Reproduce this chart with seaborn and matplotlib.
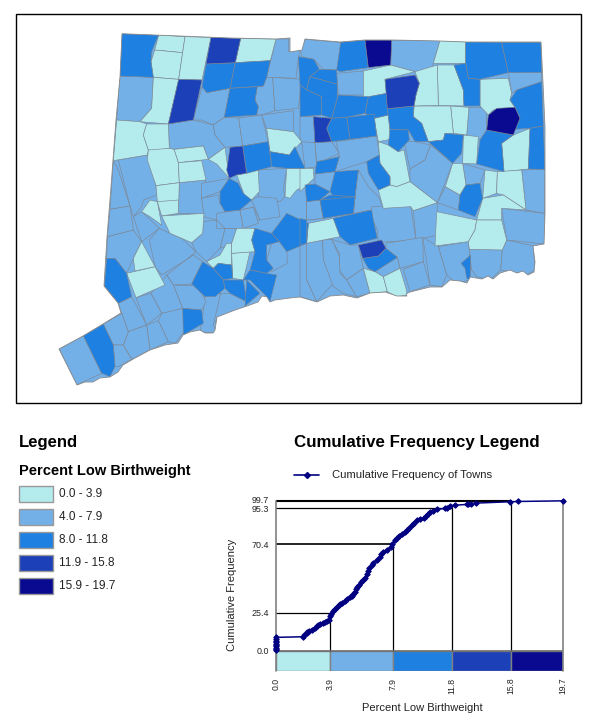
import matplotlib
matplotlib.use("Agg")
import matplotlib.pyplot as plt
from matplotlib.collections import PolyCollection
from matplotlib.patches import Polygon, Rectangle
import pandas as pd
import seaborn as sns

sns.set_style("white")
plt.rcParams['font.family'] = ['Liberation Sans', 'DejaVu Sans']

CLASS_COLORS = ['#B4ECEE', '#74B0E8', '#1E80E0', '#1C40B8', '#0A0A90']
CLASS_LABELS = ['0.0 - 3.9', '4.0 - 7.9', '8.0 - 11.8', '11.9 - 15.8', '15.9 - 19.7']
TICK_LABELS = ['0.0', '3.9', '7.9', '11.8', '15.8', '19.7']
TICK_POS = [0.0, 3.72, 8.04, 12.07, 16.17, 19.7]
Y_TICK_LABELS = ['0.0', '25.4', '70.4', '95.3', '99.7']
Y_TICK_POS = [0.0, 25.2, 71.0, 95.1, 100.9]
GUIDE_LEVELS = [25.2, 71.0, 95.1, 99.8]

PCT = [0, 0, 0, 0, 0, 0, 0, 0, 0, 0, 1.88, 1.95, 2.1, 2.16, 2.3, 2.45, 2.65, 2.8, 2.9, 3.03, 3.2, 3.37, 3.5, 3.67,
       3.72, 3.78, 3.9, 4.06, 4.2, 4.3, 4.4, 4.55, 4.75, 4.9, 5.09, 5.2, 5.32, 5.4, 5.5, 5.55, 5.7, 5.85, 6.0, 6.1,
       6.24, 6.3, 6.4, 6.58, 6.7, 6.93, 7.15, 7.25, 7.38, 7.6, 7.88, 8.0, 8.19, 8.3, 8.45, 8.65, 8.85, 9.0, 9.15,
       9.33, 9.5, 9.68, 9.9, 10.15, 10.3, 10.45, 10.6, 10.8, 11.06, 11.6, 11.74, 11.97, 12.32, 13.1, 13.2, 13.4,
       13.75, 16.1, 16.67, 19.7]
CUM = [0.4, 1.2, 2.1, 3.0, 3.9, 4.8, 5.7, 6.6, 7.7, 8.9, 9.3, 10.6, 11.8, 12.6, 13.0, 13.7, 15.2, 16.4, 17.0, 17.7,
       18.4, 19.3, 19.9, 20.8, 23.0, 24.8, 26.5, 28.1, 29.4, 30.2, 31.0, 32.0, 33.2, 34.2, 35.5, 36.6, 38.0, 39.4,
       41.0, 42.5, 44.0, 45.6, 47.0, 48.8, 51.0, 53.0, 55.0, 57.0, 58.6, 60.7, 62.5, 64.2, 65.8, 67.4, 69.0, 71.0,
       73.6, 75.0, 76.4, 78.0, 79.0, 80.2, 81.9, 83.5, 85.4, 86.9, 87.5, 88.6, 90.0, 91.2, 92.4, 93.4, 94.2, 94.9,
       95.3, 96.6, 97.0, 97.5, 97.6, 98.0, 98.4, 99.3, 99.5, 99.9]

# State boundary, map units
STATE_OUTLINE = [(122, 33.7), (230, 38), (276, 39), (290, 38), (290, 52), (302, 50), (305, 39), (340, 42), (365, 40),
    (392, 40), (440, 41), (466, 42), (541, 42), (543, 83), (545, 127), (545, 169), (545, 213), (544, 244), (533, 246),
    (535, 262), (534, 272), (528, 275), (523, 271), (517, 273), (510, 270), (500, 273), (493, 279), (488, 276),
    (482, 279), (470, 277), (467, 283), (460, 281), (450, 280), (442, 287), (430, 287), (410, 292), (406, 294),
    (407, 296), (397, 296), (385, 292), (370, 293), (357, 298), (343, 295), (330, 296), (317, 302), (300, 297),
    (290, 298), (275, 300), (270, 302), (267, 297), (262, 296), (258, 302), (247, 306), (235, 310), (217, 317),
    (215, 330), (213, 333), (205, 333), (200, 330), (190, 332), (183, 335), (178, 343), (165, 345), (150, 350),
    (135, 358), (123, 365), (118, 372), (110, 377), (100, 378), (93, 382), (85, 382), (77, 385), (59, 349), (83, 336),
    (103, 324), (121, 313), (118, 303), (104, 286), (107, 237), (110, 200), (113, 160), (116, 120), (120, 77)]

# Town boundaries per map sheet: (class, vertices)
TOWNS_NW = [
 (2, [(216,41),(326,45),(305,95),(303,125),(310,172),(209,168)]),
 (0, [(326,45),(405,50),(398,98),(314,90)]),
 (0, [(314,90),(398,98),(386,178),(318,172),(303,125)]),
 (0, [(405,50),(483,52),(456,180),(386,178)]),
 (3, [(483,52),(572,55),(556,128),(468,132)]),
 (0, [(572,55),(678,57),(661,122),(558,126)]),
 (1, [(678,57),(716,57),(716,95),(752,90),(745,110),(740,160),(738,175),(668,172),(650,172)]),
 (2, [(468,132),(552,128),(540,205),(470,218),(456,200)]),
 (2, [(556,128),(661,122),(645,172),(640,198),(541,207)]),
 (1, [(209,170),(312,175),(305,265),(270,305),(200,300)]),
 (0, [(312,175),(384,178),(355,312),(270,308),(300,265)]),
 (3, [(384,178),(456,184),(430,300),(355,312)]),
 (1, [(456,200),(470,218),(536,208),(523,292),(490,315),(455,300),(430,300)]),
 (2, [(538,207),(622,200),(615,240),(625,260),(620,285),(523,292)]),
 (1, [(645,172),(668,172),(675,272),(635,285),(620,285),(625,260),(615,240),(622,200),(640,198)]),
 (1, [(668,175),(755,178),(745,265),(675,275)]),
 (0, [(198,300),(270,308),(290,312),(280,345),(295,390),(292,405),(190,422)]),
 (0, [(290,312),(355,312),(358,385),(315,393),(295,390),(280,345)]),
 (1, [(358,312),(430,302),(490,318),(495,345),(525,382),(475,418),(460,378),(372,388),(358,385)]),
 (1, [(490,315),(523,294),(566,294),(578,378),(530,385),(495,345)]),
 (1, [(566,294),(635,285),(655,365),(582,378)]),
 (1, [(635,285),(730,272),(730,335),(650,325)]),
 (0, [(650,330),(730,335),(755,365),(718,405),(660,395)]),
 (0, [(372,388),(460,378),(470,420),(385,428)]),
 (0, [(292,395),(358,385),(372,388),(385,428),(388,488),(318,497),(292,420)]),
 (0, [(385,428),(455,422),(468,480),(390,488)]),
 (0, [(475,420),(530,388),(538,475),(500,432)]),
 (3, [(540,382),(580,380),(590,460),(560,465),(540,478),(530,450)]),
 (2, [(580,380),(655,372),(665,440),(590,452)]),
 (2, [(660,395),(712,405),(735,380),(765,445),(710,445),(665,440)]),
 (0, [(565,465),(625,450),(628,515),(605,540),(585,530)]),
 (1, [(625,450),(710,442),(700,510),(705,530),(690,545),(625,530)]),
 (0, [(712,448),(780,445),(780,490),(740,510),(720,535),(700,525)]),
 (2, [(540,480),(565,490),(580,520),(605,540),(570,570),(525,575),(510,550),(510,515)]),
 (1, [(190,422),(205,450),(240,558),(180,568)]),
 (1, [(205,420),(290,408),(318,497),(320,525),(280,540),(275,560),(250,590),(240,560)]),
 (0, [(318,497),(380,488),(385,580),(335,588),(322,545)]),
 (1, [(390,490),(468,480),(455,535),(462,580),(385,580)]),
 (1, [(455,490),(535,470),(505,520),(455,535)]),
 (1, [(455,535),(505,525),(510,550),(525,575),(500,600),(462,590)]),
 (1, [(605,540),(625,530),(680,535),(690,590),(630,600)]),
 (1, [(570,570),(610,562),(625,600),(565,600)]),
]
TOWNS_NE = [
 (1, [(15,58),(122,67),(118,130),(110,150),(70,148),(42,118),(5,110),(0,80)]),
 (2, [(122,67),(195,60),(205,143),(120,155),(110,150)]),
 (4, [(195,60),(275,60),(272,135),(205,145)]),
 (1, [(275,60),(420,62),(400,130),(392,150),(345,155),(272,137)]),
 (0, [(420,62),(497,65),(497,130),(402,132)]),
 (2, [(497,65),(605,67),(625,158),(540,178),(505,175),(497,130)]),
 (2, [(605,67),(723,67),(725,157),(625,158)]),
 (1, [(625,160),(725,157),(725,185),(650,210),(635,220)]),
 (0, [(540,178),(625,175),(635,220),(630,240),(645,262),(580,270),(565,285),(540,258)]),
 (2, [(725,188),(730,318),(690,325),(640,328),(660,295),(645,262),(635,235),(650,210)]),
 (4, [(590,265),(645,262),(660,295),(640,345),(560,330),(565,285)]),
 (2, [(690,325),(730,318),(735,448),(685,447)]),
 (0, [(605,370),(640,345),(695,325),(685,447),(612,455),(608,405)]),
 (2, [(560,332),(640,347),(605,370),(608,405),(612,455),(530,432),(540,360)]),
 (1, [(507,262),(560,262),(560,330),(540,360),(500,345)]),
 (0, [(452,258),(505,262),(500,345),(460,340)]),
 (0, [(342,258),(452,258),(460,340),(435,340),(430,360),(385,365),(365,310),(340,290)]),
 (2, [(462,135),(497,130),(505,175),(540,180),(540,258),(492,258),(490,210)]),
 (0, [(412,135),(462,135),(490,210),(490,258),(415,256)]),
 (0, [(345,155),(412,135),(412,256),(345,256),(348,225),(358,190)]),
 (0, [(190,153),(270,138),(345,155),(255,178),(260,220),(190,235)]),
 (3, [(255,178),(345,165),(358,190),(348,225),(345,256),(262,266)]),
 (1, [(110,160),(190,150),(190,225),(115,225)]),
 (2, [(205,230),(255,220),(262,266),(265,285),(222,295),(195,280)]),
 (2, [(262,265),(342,258),(340,290),(365,310),(385,365),(345,365),(325,330),(270,328)]),
 (0, [(222,295),(262,288),(272,358),(235,365)]),
 (2, [(270,330),(325,330),(328,360),(295,395),(265,375)]),
 (2, [(115,228),(205,225),(195,280),(140,292),(95,295)]),
 (2, [(142,292),(222,282),(230,348),(150,358)]),
 (2, [(92,298),(142,292),(150,358),(95,365),(80,325)]),
 (3, [(40,290),(92,288),(80,325),(95,365),(45,368)]),
 (1, [(0,290),(40,290),(45,368),(5,375),(0,350)]),
 (2, [(0,110),(42,118),(58,148),(30,170),(20,210),(0,195)]),
 (2, [(58,148),(110,155),(112,193),(30,168)]),
 (2, [(30,168),(110,195),(112,235),(95,295),(65,285),(65,230),(20,212)]),
 (2, [(0,190),(20,212),(65,230),(65,288),(0,288)]),
 (0, [(0,445),(40,445),(42,475),(0,515)]),
 (1, [(108,365),(232,350),(238,405),(200,425),(105,455),(118,410)]),
 (1, [(10,372),(45,368),(50,440),(15,445)]),
 (1, [(48,368),(95,365),(118,400),(75,420),(50,425)]),
 (2, [(42,425),(75,420),(118,405),(108,455),(45,462)]),
 (2, [(205,425),(235,405),(240,430),(270,470),(270,495),(235,510),(205,460)]),
 (0, [(235,365),(270,375),(295,395),(312,390),(330,485),(290,500),(272,490),(270,465),(240,430)]),
 (1, [(312,365),(345,365),(392,375),(375,420),(330,447)]),
 (1, [(392,378),(458,430),(412,548),(332,487),(330,447),(375,420)]),
 (2, [(392,365),(430,360),(435,340),(490,345),(485,400),(458,430)]),
 (0, [(490,350),(535,350),(530,435),(488,430)]),
 (0, [(458,430),(488,430),(498,495),(480,525),(436,500)]),
 (1, [(490,432),(555,450),(540,490),(498,495)]),
 (0, [(555,448),(592,455),(590,520),(548,535)]),
 (0, [(592,455),(665,450),(678,570),(610,525),(590,520)]),
 (1, [(665,450),(735,448),(733,580),(678,570)]),
 (2, [(500,490),(540,487),(545,540),(525,590),(475,570),(478,525)]),
 (1, [(436,502),(478,525),(475,575),(408,548)]),
 (0, [(232,510),(272,490),(290,500),(330,485),(412,548),(340,572),(332,560),(250,565)]),
 (0, [(545,540),(610,525),(678,575),(605,565),(605,600),(530,600)]),
 (1, [(175,450),(205,500),(235,530),(250,565),(215,570),(160,580),(170,490)]),
 (2, [(105,460),(175,450),(170,490),(165,530),(105,535),(90,515)]),
 (2, [(15,495),(45,492),(88,522),(60,540),(20,545)]),
 (2, [(60,535),(90,525),(165,535),(160,575),(70,595)]),
 (1, [(42,462),(105,458),(110,480),(90,515),(45,490)]),
 (1, [(18,548),(60,545),(68,595),(20,600)]),
]
TOWNS_SW = [
 (1, [(172,110),(250,90),(275,125),(250,175),(230,220),(195,175),(170,175)]),
 (1, [(180,30),(240,20),(250,90),(175,105)]),
 (1, [(245,55),(275,35),(328,85),(275,125)]),
 (1, [(298,120),(328,85),(360,100),(395,115),(438,155),(405,182),(335,225),(315,200)]),
 (1, [(350,225),(405,185),(430,165),(458,185),(425,252),(370,255)]),
 (2, [(170,175),(195,175),(225,225),(245,290),(205,310),(163,258)]),
 (0, [(225,225),(315,203),(345,255),(258,293)]),
 (0, [(252,175),(270,125),(313,200),(255,213)]),
 (0, [(275,30),(300,0),(325,0),(335,75),(300,50)]),
 (0, [(325,0),(385,0),(385,42),(335,48)]),
 (0, [(335,50),(455,40),(458,100),(425,128),(395,115),(360,100)]),
 (2, [(458,180),(490,205),(520,240),(525,265),(495,290),(465,290),(425,255)]),
 (2, [(490,205),(505,190),(545,195),(548,235),(520,240)]),
 (0, [(470,185),(510,165),(530,130),(545,130),(545,190),(505,190),(485,205)]),
 (0, [(545,160),(600,155),(580,240),(550,240)]),
 (0, [(545,130),(560,85),(615,85),(605,120),(615,155),(545,160)]),
 (1, [(510,145),(525,85),(560,85),(545,130)]),
 (1, [(440,150),(430,125),(458,100),(460,65),(505,65),(500,85),(525,85),(510,145),(470,180)]),
 (1, [(500,40),(565,35),(580,85),(525,90),(505,65)]),
 (1, [(565,30),(610,20),(625,70),(580,88)]),
 (2, [(615,90),(665,100),(688,125),(650,135),(650,180),(670,205),(650,220),(600,210),(615,155),(605,120)]),
 (2, [(665,100),(710,40),(775,70),(770,130),(710,155),(688,125)]),
 (1, [(688,125),(710,125),(712,190),(665,215),(650,185),(665,130)]),
 (2, [(580,235),(600,210),(650,222),(680,225),(660,305),(650,290),(630,270),(600,240)]),
 (2, [(525,245),(580,240),(590,305),(540,280),(520,270)]),
 (2, [(590,240),(630,280),(585,318)]),
 (1, [(512,280),(540,283),(590,305),(580,330),(500,375),(490,350)]),
 (1, [(465,295),(510,285),(490,375),(500,400),(450,395),(458,350)]),
 (2, [(398,325),(455,330),(460,370),(400,405)]),
 (1, [(375,255),(445,258),(468,305),(455,328),(395,325)]),
 (1, [(303,280),(350,225),(370,255),(398,325),(365,335),(335,340)]),
 (1, [(255,295),(303,280),(330,340),(290,375)]),
 (1, [(205,310),(250,290),(290,370),(235,395),(215,340)]),
 (1, [(325,362),(330,342),(400,330),(410,385),(375,430),(355,425)]),
 (1, [(285,378),(325,362),(355,425),(300,450)]),
 (1, [(235,395),(285,378),(298,450),(245,478),(220,435)]),
 (1, [(160,372),(215,340),(235,395),(220,435),(190,435)]),
 (2, [(100,407),(160,372),(190,435),(195,500),(180,530),(155,520)]),
 (1, [(190,437),(220,437),(240,480),(205,500),(195,495)]),
 (1, [(28,447),(100,407),(155,520),(80,555)]),
]
TOWNS_SE = [
 (2, [(60,55),(160,55),(160,105),(75,115)]),
 (1, [(20,67),(60,65),(68,120),(22,125)]),
 (0, [(22,130),(100,115),(120,170),(22,185)]),
 (2, [(103,115),(215,97),(220,120),(232,175),(150,195),(120,170)]),
 (2, [(0,115),(25,125),(20,185),(0,195)]),
 (1, [(215,80),(335,80),(348,180),(235,187),(232,150),(215,110)]),
 (1, [(338,95),(408,75),(415,165),(350,175)]),
 (0, [(410,95),(525,125),(525,150),(505,185),(405,198)]),
 (0, [(525,125),(610,122),(620,180),(607,210),(508,208),(505,185),(525,150)]),
 (1, [(605,85),(733,102),(733,192),(620,180)]),
 (1, [(415,200),(505,185),(512,250),(510,300),(470,310),(440,285)]),
 (2, [(483,250),(512,225),(512,300),(500,295),(495,265)]),
 (1, [(508,210),(605,212),(602,270),(570,300),(530,290),(515,270)]),
 (1, [(607,210),(620,180),(700,198),(705,270),(680,285),(610,272)]),
 (1, [(95,178),(150,195),(175,195),(190,265),(140,300),(118,270),(118,220)]),
 (3, [(178,195),(245,180),(258,205),(235,228),(188,235)]),
 (2, [(188,238),(235,228),(258,212),(292,232),(225,275),(205,265)]),
 (1, [(225,275),(292,235),(300,265),(250,290)]),
 (0, [(195,268),(225,278),(255,290),(262,335),(210,340)]),
 (0, [(255,290),(300,272),(318,325),(322,345),(290,350),(260,330)]),
 (1, [(258,190),(368,172),(370,245),(300,268),(292,232),(258,205)]),
 (1, [(370,172),(415,198),(440,285),(425,320),(390,315),(380,245)]),
 (1, [(310,268),(370,248),(390,320),(330,335)]),
 (1, [(20,190),(68,180),(70,240),(100,310),(50,365),(20,300)]),
 (1, [(68,180),(95,178),(118,230),(120,280),(140,300),(170,350),(130,340),(100,320),(70,240)]),
 (1, [(140,300),(195,270),(212,340),(170,355)]),
 (1, [(0,195),(20,190),(20,300),(45,365),(0,350)]),
]
SHEETS = [(TOWNS_NW, 50, 20), (TOWNS_NE, 300, 20), (TOWNS_SW, 50, 200), (TOWNS_SE, 300, 180)]

W, H = 600, 726
fig = plt.figure(figsize=(W / 100, H / 100), dpi=100, facecolor='white')
bg = fig.add_axes([0, 0, 1, 1])
bg.set_xlim(0, W)
bg.set_ylim(H, 0)
bg.axis('off')

# shared corners of neighbouring towns are merged so the sheets tile cleanly
anchors = []
def merged(pt, tol=3.0):
    for a in anchors:
        if (a[0] - pt[0]) ** 2 + (a[1] - pt[1]) ** 2 <= tol ** 2:
            return a
    anchors.append(pt)
    return pt

town_polys = {c: [] for c in range(5)}
for towns, ox, oy in SHEETS:
    for c, poly in towns:
        town_polys[c].append([merged((ox + x / 3, oy + y / 3)) for x, y in poly])

bg.add_patch(Rectangle((16, 14), 565, 389, fc='white', ec='black', lw=1.0))
state = Polygon(STATE_OUTLINE, closed=True, fc=CLASS_COLORS[1], ec='none')
bg.add_patch(state)
for cls in [1, 0, 2, 3, 4]:
    coll = PolyCollection(town_polys[cls], facecolors=CLASS_COLORS[cls], edgecolors='#7d8794', linewidths=0.45)
    bg.add_collection(coll)
    coll.set_clip_path(state)
bg.add_patch(Polygon(STATE_OUTLINE, closed=True, fc='none', ec='#8a8a8a', lw=0.6))

# Left legend
bg.text(19, 442, 'Legend', fontsize=12, fontweight='bold', va='center', ha='left', color='black')
bg.text(19, 471, 'Percent Low Birthweight', fontsize=10.5, fontweight='bold', va='center', ha='left', color='black')
for i, (col, lab) in enumerate(zip(CLASS_COLORS, CLASS_LABELS)):
    y = 485.5 + i * 23.1
    bg.add_patch(Rectangle((18.5, y), 34, 16.5, fc=col, ec='#999999', lw=1))
    bg.text(59, y + 8.5, lab, fontsize=8.5, va='center', ha='left', color='#222222')

# Chart title and line key
bg.text(416.5, 443, 'Cumulative Frequency Legend', fontsize=12.2, fontweight='bold', va='center', ha='center', color='black')
bg.plot([294, 319], [474.5, 474.5], color='#000080', lw=1.2)
bg.plot([306.5], [474.5], color='#000080', marker='D', ms=3)
bg.text(331.5, 474.5, 'Cumulative Frequency of Towns', fontsize=8.1, va='center', ha='left', color='#222222')

# Cumulative chart
top_px, bot_px, left_px, right_px = 499.2, 670.7, 276, 562.5
ax = fig.add_axes([left_px / W, 1 - bot_px / H, (right_px - left_px) / W, (bot_px - top_px) / H])
ax.set_facecolor('none')
ax.set_xlim(0, 19.7)
ax.set_ylim(-13.33, 101)

edges = TICK_POS
ax.bar(edges[:-1], [13.33] * 5, width=[b - a for a, b in zip(edges[:-1], edges[1:])], bottom=-13.33,
       align='edge', color=CLASS_COLORS, edgecolor='#808080', linewidth=1, zorder=2)
ax.plot([0, 19.7], [0, 0], color='#707070', lw=1.2, zorder=3)
ax.plot([0, 0], [-13.33, 99.8], color='#808080', lw=1.2, zorder=3, clip_on=False)
ax.plot([19.7, 19.7], [-13.33, 99.8], color='#808080', lw=1.2, zorder=3, clip_on=False)

guides_x = TICK_POS[1:5]
for gx, gy, lw in zip(guides_x, GUIDE_LEVELS, [0.9, 1.2, 0.9, 1.5]):
    ax.plot([0, gx], [gy, gy], color='black', lw=lw, zorder=2)
    ax.plot([gx, gx], [0, gy], color='black', lw=0.9, zorder=2)

df = pd.DataFrame({'pct': PCT, 'cum': CUM})
sns.lineplot(data=df, x='pct', y='cum', ax=ax, color='#000080', lw=1.1, marker='D', markersize=2.8,
             markeredgecolor='#000080', estimator=None, sort=False, zorder=4, clip_on=False)

ax.set_xticks(TICK_POS)
ax.set_xticklabels(TICK_LABELS, rotation=90, fontsize=6.2, color='#222222')
ax.set_yticks(Y_TICK_POS)
ax.set_yticklabels(Y_TICK_LABELS, fontsize=6.4, color='#222222')
ax.tick_params(axis='both', length=0, pad=5)
ax.tick_params(axis='x', pad=5)
ax.set_xlabel('')
ax.set_ylabel('')
bg.text(422, 708, 'Percent Low Birthweight', fontsize=8, va='center', ha='center', color='#222222')
bg.text(232, 595, 'Cumulative Frequency', fontsize=8, rotation=90, va='center', ha='center', color='#222222')
for s in ax.spines.values():
    s.set_visible(False)

fig.savefig('out.png', dpi=100, facecolor='white')
